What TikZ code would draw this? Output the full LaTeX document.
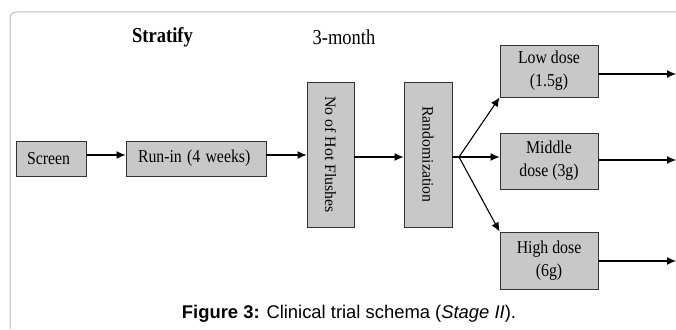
\documentclass[tikz,border=0pt]{standalone}
\usepackage{fontspec}
\setmainfont{Liberation Serif}
\newfontfamily\capfont{Liberation Sans}
\usetikzlibrary{arrows.meta}
\newcommand\vs[1]{\scalebox{1}[1.15]{#1}}
\definecolor{boxgray}{HTML}{C8C8C8}
\definecolor{framegray}{HTML}{BDBDBD}
\definecolor{edgegray}{HTML}{333333}
\begin{document}
\begin{tikzpicture}[x=1pt,y=-1pt,
  box/.style={draw=edgegray, fill=boxgray, line width=0.9pt, inner sep=0pt,
    font=\fontsize{15.8}{23}\selectfont, align=center},
  lbox/.style={box, align=left},
  lbl/.style={font=\fontsize{18.5}{20}\selectfont, inner sep=0pt},
  arr/.style={-{Latex[length=9pt,width=8pt]}, line width=1.1pt},
  plain/.style={line width=1.1pt}]
\useasboundingbox (0,0) rectangle (676,329);
\fill[white] (0,0) rectangle (676,329);
\draw[framegray, line width=1pt, rounded corners=6pt] (10,329) -- (10,12) -- (676,12);

\node[lbl, font=\bfseries\fontsize{18.5}{20}\selectfont] (strat) at (162.5,37) {\vs{Stratify}};
\node[lbl] (month) at (344,37) {\vs{3-month}};

\node[lbox, inner xsep=11pt, text width=48pt, minimum height=35pt] (screen) at (51,158.5) {\vs{Screen}};
\node[lbox, inner xsep=12pt, text width=116pt, minimum height=35pt] (runin) at (196,158.5) {\vs{Run-in (4 weeks)}};
\node[box, minimum width=47pt, minimum height=145pt] (hot) at (330.5,154.5) {\rotatebox{-90}{No of Hot Flushes}};
\node[box, minimum width=48pt, minimum height=145pt] (rand) at (428,154.5) {\rotatebox{-90}{Randomization}};
\node[box, minimum width=98pt, minimum height=52pt] (low) at (549,71) {\vs{Low dose}\\\vs{(1.5g)}};
\node[box, minimum width=98pt, minimum height=56pt] (mid) at (549,161) {\vs{Middle}\\\vs{dose (3g)}};
\node[box, minimum width=98pt, minimum height=57pt] (high) at (549,260.5) {\vs{High dose}\\\vs{(6g)}};

\coordinate (l0) at ([yshift=3.5pt]screen.east);
\draw[arr] (l0) -- (l0 -| runin.west);
\coordinate (l1) at ([yshift=3.5pt]runin.east);
\draw[arr] (l1) -- (l1 -| hot.west);
\coordinate (l2) at ([yshift=-2.5pt]hot.east);
\draw[arr] (l2) -- (l2 -| rand.west);
\coordinate (fork) at (459,157);
\draw[plain] (fork -| rand.east) -- (fork);
\draw[arr] (fork) -- (low.south west);
\draw[arr] (fork) -- (fork -| mid.west);
\draw[arr] (fork) -- (high.north west);

\coordinate (oL) at (676,74);
\coordinate (oM) at (676,160);
\coordinate (oH) at (676,261);
\draw[arr] (oL -| low.east) -- (oL);
\draw[arr] (oM -| mid.east) -- (oM);
\draw[arr] (oH -| high.east) -- (oH);

\node[inner sep=0pt, font=\capfont\fontsize{18.4}{20}\selectfont] (cap) at (349,314) {\textbf{Figure 3:} Clinical trial schema (\textit{Stage II}).};
\end{tikzpicture}
\end{document}
